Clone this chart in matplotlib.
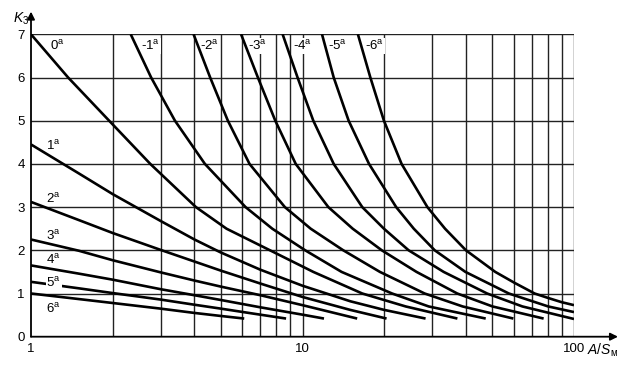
import matplotlib
matplotlib.use('Agg')
import matplotlib.pyplot as plt

plt.rcParams['font.family'] = ['Liberation Sans', 'DejaVu Sans']
plt.rcParams['mathtext.fontset'] = 'custom'
plt.rcParams['mathtext.rm'] = 'Liberation Sans'
plt.rcParams['mathtext.it'] = 'Liberation Sans:italic'

# curves: A/S_M (x) against K3
x_6 = [1, 2, 3, 4, 5, 6.1]
k_6 = [1.00, 0.78, 0.65, 0.55, 0.48, 0.42]
x_5 = [1, 1.5, 2, 3, 4, 5, 6.5, 8.7]
k_5 = [1.27, 1.12, 1.01, 0.86, 0.74, 0.65, 0.54, 0.42]
x_4 = [1, 1.5, 2, 3, 4, 5, 7, 10, 12]
k_4 = [1.65, 1.46, 1.32, 1.10, 0.96, 0.85, 0.68, 0.51, 0.42]
x_3 = [1, 1.5, 2, 3, 4, 5, 7, 10, 15.9]
k_3 = [2.25, 1.99, 1.77, 1.49, 1.30, 1.16, 0.96, 0.73, 0.42]
x_2 = [1, 1.5, 2, 3, 4, 5, 7, 10, 15, 20.4]
k_2 = [3.12, 2.70, 2.40, 2.01, 1.74, 1.53, 1.23, 0.92, 0.62, 0.42]
x_1 = [1, 1.5, 2, 3, 4, 5, 7, 10, 15, 20, 28.4]
k_1 = [4.45, 3.78, 3.30, 2.68, 2.25, 1.95, 1.55, 1.18, 0.82, 0.62, 0.42]
x_0 = [1, 1.37, 1.94, 2.75, 4.05, 5.25, 7.59, 10.96, 16.6, 24.0, 37.2]
k_0 = [7, 6, 5, 4, 3, 2.5, 2, 1.5, 1, 0.7, 0.42]
x_m1 = [2.33, 2.77, 3.39, 4.37, 6.17, 7.74, 10.23, 13.93, 21.38, 29.17, 47.3]
k_m1 = [7, 6, 5, 4, 3, 2.5, 2, 1.5, 1, 0.7, 0.42]
x_m2 = [3.97, 4.57, 5.31, 6.38, 8.61, 10.72, 14.13, 19.28, 28.18, 38.9, 59.8]
k_m2 = [7, 6, 5, 4, 3, 2.5, 2, 1.5, 1, 0.7, 0.42]
x_m3 = [5.94, 6.85, 7.94, 9.44, 12.45, 15.31, 19.59, 26.3, 37.15, 50.12, 77.3]
k_m3 = [7, 6, 5, 4, 3, 2.5, 2, 1.5, 1, 0.7, 0.42]
x_m4 = [8.45, 9.59, 10.96, 13.03, 16.6, 19.95, 24.6, 33.11, 47.86, 64.57, 100]
k_m4 = [7, 6, 5, 4, 3, 2.5, 2, 1.5, 1, 0.7, 0.41]
x_m5 = [11.8, 13.03, 14.79, 17.58, 22.13, 25.7, 30.69, 39.81, 57.54, 80.35, 100]
k_m5 = [7, 6, 5, 4, 3, 2.5, 2, 1.5, 1, 0.7, 0.57]
x_m6 = [16.0, 17.78, 19.95, 23.17, 28.84, 33.5, 40.0, 51.29, 60.26, 71.61, 79.98, 89.95, 100]
k_m6 = [7, 6, 5, 4, 3, 2.5, 2, 1.5, 1.25, 1, 0.9, 0.8, 0.73]

curve_names = ['6', '5', '4', '3', '2', '1', '0', '-1', '-2', '-3', '-4', '-5', '-6']
curve_x = [x_6, x_5, x_4, x_3, x_2, x_1, x_0, x_m1, x_m2, x_m3, x_m4, x_m5, x_m6]
curve_k = [k_6, k_5, k_4, k_3, k_2, k_1, k_0, k_m1, k_m2, k_m3, k_m4, k_m5, k_m6]

# where each label sits (x, K)
label_pos = {'6': (1.14, 0.65), '5': (1.14, 1.24), '4': (1.14, 1.77), '3': (1.14, 2.33),
             '2': (1.14, 3.2), '1': (1.14, 4.41), '0': (1.17, 6.72),
             '-1': (2.54, 6.73), '-2': (4.2, 6.73), '-3': (6.3, 6.73), '-4': (9.2, 6.73),
             '-5': (12.4, 6.73), '-6': (16.95, 6.73)}

grid_x = [2, 3, 4, 5, 6, 7, 8, 9, 10, 20, 30, 40, 50, 60, 70, 80, 90, 100]
grid_k = [1, 2, 3, 4, 5, 6, 7]

fig = plt.figure(figsize=(6.25, 3.65), dpi=100)
ax = fig.add_axes([31 / 625, 28.3 / 365, 543 / 625, 302.4 / 365])
ax.set_xscale('log')
ax.set_xlim(1, 100)
ax.set_ylim(0, 7)

gc = '#222222'
for gx in grid_x:
    ax.axvline(gx, color=gc, lw=1.0, zorder=1)
for gk in grid_k:
    ax.axhline(gk, color=gc, lw=1.0, zorder=1)

for name, xs, ks in zip(curve_names, curve_x, curve_k):
    ax.plot(xs, ks, color='black', lw=1.9, solid_capstyle='butt', zorder=3)
    lx, ly = label_pos[name]
    ax.text(lx, ly, name + r'$^{\mathregular{a}}$', fontsize=9.5, ha='left', va='center',
            zorder=4 if name == '5' else 2,
            bbox=dict(fc='white', ec='none', pad=0.6))

for s in ax.spines.values():
    s.set_visible(False)

ax.set_xticks([1, 10, 100])
ax.set_xticklabels(['1', '10', '100'])
ax.set_xticks([], minor=True)
ax.set_yticks(range(8))
ax.tick_params(length=0, labelsize=9.5, pad=4.5)

# axis arrows
arrow = dict(arrowstyle='-|>', color='black', lw=1.3, mutation_scale=11, shrinkA=0, shrinkB=0)
ax.annotate('', xy=(0, 1.075), xytext=(0, 0), xycoords='axes fraction', arrowprops=arrow,
            annotation_clip=False)
ax.annotate('', xy=(1.081, 0), xytext=(0, 0), xycoords='axes fraction', arrowprops=arrow,
            annotation_clip=False)

fig.text(13 / 625, 1 - 19 / 365, r'$K_3$', fontsize=10, ha='left', va='center')
fig.text(587 / 625, 1 - 350 / 365, r'$A/S_{\mathregular{м}}$', fontsize=10, ha='left', va='center')

fig.savefig('out.png', dpi=100)
